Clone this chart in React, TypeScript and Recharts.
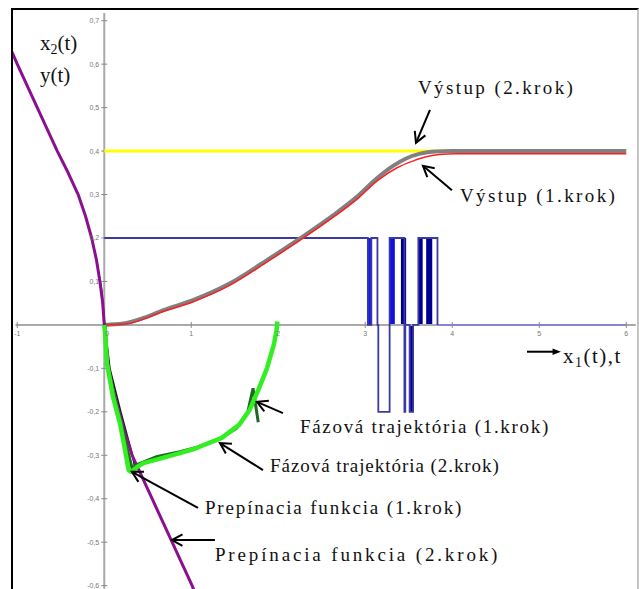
import {
  ComposedChart,
  Line,
  ReferenceArea,
  ReferenceDot,
  ReferenceLine,
  XAxis,
  YAxis,
} from "recharts";

type Pt = { x: number; y: number };

// Prepínacia funkcia (2. krok)
const switchCurve2: Pt[] = [
  { x: -1.06, y: 0.628 },
  { x: -1.0, y: 0.6 },
  { x: -0.77, y: 0.5 },
  { x: -0.54, y: 0.4 },
  { x: -0.415, y: 0.35 },
  { x: -0.3, y: 0.3 },
  { x: -0.215, y: 0.25 },
  { x: -0.145, y: 0.2 },
  { x: -0.09, y: 0.15 },
  { x: -0.05, y: 0.1 },
  { x: -0.018, y: 0.05 },
  { x: 0, y: 0 },
  { x: 0.02, y: -0.05 },
  { x: 0.05, y: -0.1 },
  { x: 0.1, y: -0.15 },
  { x: 0.17, y: -0.2 },
  { x: 0.24, y: -0.25 },
  { x: 0.32, y: -0.3 },
  { x: 0.55, y: -0.4 },
  { x: 0.78, y: -0.5 },
  { x: 1.01, y: -0.6 },
  { x: 1.03, y: -0.61 },
];

// Prepínacia funkcia (1. krok)
const switchCurve1: Pt[] = [
  { x: -0.09, y: 0.15 },
  { x: -0.03, y: 0.08 },
  { x: 0.005, y: 0 },
  { x: 0.065, y: -0.1 },
  { x: 0.19, y: -0.2 },
  { x: 0.325, y: -0.3 },
  { x: 0.36, y: -0.34 },
];

// Fázová trajektória (1. krok)
const phase1: Pt[] = [
  { x: 0.01, y: 0 },
  { x: 0.04, y: -0.09 },
  { x: 0.12, y: -0.17 },
  { x: 0.2, y: -0.23 },
  { x: 0.27, y: -0.29 },
  { x: 0.32, y: -0.33 },
  { x: 0.37, y: -0.322 },
  { x: 0.6, y: -0.303 },
  { x: 0.87, y: -0.292 },
  { x: 1.06, y: -0.282 },
  { x: 1.33, y: -0.262 },
  { x: 1.52, y: -0.238 },
  { x: 1.65, y: -0.2 },
  { x: 1.71, y: -0.146 },
  { x: 1.74, y: -0.185 },
  { x: 1.77, y: -0.224 },
];

// Fázová trajektória (2. krok)
const phase2: Pt[] = [
  { x: 0, y: 0 },
  { x: 0.01, y: -0.02 },
  { x: 0.03, y: -0.088 },
  { x: 0.1, y: -0.165 },
  { x: 0.18, y: -0.226 },
  { x: 0.24, y: -0.288 },
  { x: 0.28, y: -0.334 },
  { x: 0.31, y: -0.338 },
  { x: 0.37, y: -0.328 },
  { x: 0.45, y: -0.318 },
  { x: 0.62, y: -0.309 },
  { x: 0.87, y: -0.295 },
  { x: 1.04, y: -0.285 },
  { x: 1.35, y: -0.26 },
  { x: 1.55, y: -0.23 },
  { x: 1.67, y: -0.196 },
  { x: 1.77, y: -0.15 },
  { x: 1.87, y: -0.1 },
  { x: 1.95, y: -0.045 },
  { x: 1.98, y: -0.012 },
  { x: 1.99, y: 0.008 },
];

// Výstup (2. krok)
const output2: Pt[] = [
  { x: 0, y: 0 },
  { x: 0.22, y: 0.003 },
  { x: 0.45, y: 0.016 },
  { x: 0.68, y: 0.034 },
  { x: 1.02, y: 0.057 },
  { x: 1.44, y: 0.095 },
  { x: 1.87, y: 0.149 },
  { x: 2.25, y: 0.199 },
  { x: 2.63, y: 0.252 },
  { x: 2.9, y: 0.294 },
  { x: 3.13, y: 0.337 },
  { x: 3.32, y: 0.366 },
  { x: 3.47, y: 0.383 },
  { x: 3.63, y: 0.394 },
  { x: 3.82, y: 0.399 },
  { x: 4.0, y: 0.4 },
  { x: 6.0, y: 0.4 },
];

// Výstup (1. krok)
const output1: Pt[] = [
  { x: 0, y: 0 },
  { x: 0.24, y: 0.002 },
  { x: 0.68, y: 0.031 },
  { x: 1.03, y: 0.054 },
  { x: 1.45, y: 0.092 },
  { x: 1.88, y: 0.146 },
  { x: 2.26, y: 0.196 },
  { x: 2.64, y: 0.249 },
  { x: 2.91, y: 0.29 },
  { x: 3.14, y: 0.332 },
  { x: 3.36, y: 0.361 },
  { x: 3.56, y: 0.378 },
  { x: 3.7, y: 0.387 },
  { x: 3.85, y: 0.392 },
  { x: 4.05, y: 0.394 },
  { x: 6.0, y: 0.394 },
];

// žiadaná hodnota w = 0.4
const reference: Pt[] = [
  { x: 0, y: 0.4 },
  { x: 6.0, y: 0.4 },
];

// akčný zásah u(t)
const control: Pt[] = [
  { x: 0, y: 0.2 },
  { x: 3.03, y: 0.2 },
  { x: 3.03, y: 0 },
  { x: 3.07, y: 0 },
  { x: 3.07, y: 0.2 },
  { x: 3.14, y: 0.2 },
  { x: 3.14, y: 0 },
  { x: 3.15, y: 0 },
  { x: 3.15, y: -0.2 },
  { x: 3.28, y: -0.2 },
  { x: 3.28, y: 0.2 },
  { x: 3.45, y: 0.2 },
  { x: 3.45, y: -0.2 },
  { x: 3.46, y: -0.2 },
  { x: 3.46, y: 0 },
  { x: 3.51, y: 0 },
  { x: 3.51, y: -0.2 },
  { x: 3.55, y: -0.2 },
  { x: 3.55, y: 0 },
  { x: 3.61, y: 0 },
  { x: 3.61, y: 0.2 },
  { x: 3.83, y: 0.2 },
  { x: 3.83, y: 0 },
];

const controlTail: Pt[] = [
  { x: 3.83, y: 0 },
  { x: 6.0, y: 0 },
];

// husté prepínanie u(t) – vyplnené pásy [t1, t2, u1, u2]
const chatterBands: [number, number, number, number, string][] = [
  [3.03, 3.07, 0, 0.2, "#1414ff"],
  [3.28, 3.34, 0, 0.2, "#1010e0"],
  [3.41, 3.47, 0, 0.2, "#00008e"],
  [3.515, 3.55, -0.2, 0, "#00008e"],
  [3.61, 3.66, 0, 0.2, "#00008e"],
  [3.7, 3.77, 0, 0.2, "#00008e"],
];

const xTicks = [-1, 0, 1, 2, 3, 4, 5, 6];
const yTicks = [0.7, 0.6, 0.5, 0.4, 0.3, 0.2, 0.1, -0.1, -0.2, -0.3, -0.4, -0.5, -0.6];

const notes = [
  { text: "Výstup (2.krok)", x: 3.606, y: 0.531, spacing: 2.4 },
  { text: "Výstup (1.krok)", x: 4.088, y: 0.283, spacing: 2.4 },
  { text: "Fázová trajektória (1.krok)", x: 2.249, y: -0.249, spacing: 1.7 },
  { text: "Fázová trajektória (2.krok)", x: 1.905, y: -0.338, spacing: 0.95 },
  { text: "Prepínacia funkcia (1.krok)", x: 1.157, y: -0.435, spacing: 1.85 },
  { text: "Prepínacia funkcia (2.krok)", x: 1.272, y: -0.543, spacing: 2.85 },
];

const arrows: { from: Pt; to: Pt }[] = [
  { from: { x: 3.744, y: 0.495 }, to: { x: 3.583, y: 0.419 } },
  { from: { x: 3.996, y: 0.31 }, to: { x: 3.663, y: 0.366 } },
  { from: { x: 2.054, y: -0.203 }, to: { x: 1.755, y: -0.177 } },
  { from: { x: 1.824, y: -0.334 }, to: { x: 1.33, y: -0.272 } },
  { from: { x: 1.077, y: -0.421 }, to: { x: 0.318, y: -0.338 } },
  { from: { x: 1.272, y: -0.495 }, to: { x: 0.778, y: -0.495 } },
];

const X_DOMAIN: [number, number] = [-1.049, 6.135];
const Y_DOMAIN: [number, number] = [-0.6077, 0.7246];
const SERIF = '"Liberation Serif", "Times New Roman", serif';
const SANS = '"Liberation Sans", Arial, sans-serif';
const AXIS = "#a9a9a9";

const fmt = (v: number) => v.toFixed(1).replace(".", ",");

const arrowShape = (filled: boolean) => (p: any) => {
  const { x1, y1, x2, y2 } = p;
  const a = Math.atan2(y2 - y1, x2 - x1);
  const len = filled ? 9 : 12;
  const spread = filled ? 0.38 : 0.5;
  const ax = x2 - len * Math.cos(a - spread);
  const ay = y2 - len * Math.sin(a - spread);
  const bx = x2 - len * Math.cos(a + spread);
  const by = y2 - len * Math.sin(a + spread);
  return (
    <g>
      <line x1={x1} y1={y1} x2={filled ? x2 - 6 * Math.cos(a) : x2} y2={filled ? y2 - 6 * Math.sin(a) : y2} stroke="#000" strokeWidth={2} />
      {filled ? (
        <polygon points={`${ax},${ay} ${x2},${y2} ${bx},${by}`} fill="#000" />
      ) : (
        <polyline points={`${ax},${ay} ${x2},${y2} ${bx},${by}`} fill="none" stroke="#000" strokeWidth={2} />
      )}
    </g>
  );
};

const noteShape = (text: string, spacing: number) => (p: any) => (
  <text x={p.cx} y={p.cy} fontFamily={SERIF} fontSize={19} letterSpacing={spacing} fill="#111">
    {text}
  </text>
);

const tickLabel = (text: string, anchor: "end" | "middle" | "start", dx: number, dy: number) => (p: any) => (
  <text x={p.cx + dx} y={p.cy + dy} textAnchor={anchor} fontFamily={SANS} fontSize={7} fill="#777">
    {text}
  </text>
);

export default function App() {
  return (
    <div style={{ position: "absolute", left: 0, top: 0, width: 639, height: 589, overflow: "hidden", background: "#fff" }}>
      <div
        style={{
          position: "absolute",
          left: 11,
          top: 8,
          width: 624,
          height: 600,
          borderTop: "2px solid #000",
          borderLeft: "2px solid #000",
          borderRight: "2px solid #c4c4c4",
        }}
      />
      <div style={{ position: "absolute", left: 0, top: 0 }}>
        <ComposedChart width={639} height={589} margin={{ top: 10, right: 1, bottom: 0, left: 13 }}>
          <XAxis type="number" dataKey="x" domain={X_DOMAIN} allowDataOverflow hide />
          <YAxis type="number" dataKey="y" domain={Y_DOMAIN} allowDataOverflow hide />

          {/* osi cez počiatok */}
          <ReferenceLine segment={[{ x: -1.02, y: 0 }, { x: 6.11, y: 0 }]} stroke={AXIS} strokeWidth={2} />
          <ReferenceLine segment={[{ x: 0, y: 0.7177 }, { x: 0, y: -0.607 }]} stroke={AXIS} strokeWidth={2} />
          {xTicks.map((t) => (
            <ReferenceLine key={`xt${t}`} segment={[{ x: t, y: -0.007 }, { x: t, y: 0.007 }]} stroke="#8a8a8a" strokeWidth={1} />
          ))}
          {yTicks.map((t) => (
            <ReferenceLine key={`yt${t}`} segment={[{ x: -0.035, y: t }, { x: 0.035, y: t }]} stroke="#8a8a8a" strokeWidth={1} />
          ))}
          {xTicks.map((t) => (
            <ReferenceDot key={`xl${t}`} x={t} y={0} r={1} shape={tickLabel(String(t), "middle", t === 0 ? 3 : 0, 11)} />
          ))}
          {yTicks.map((t) => (
            <ReferenceDot key={`yl${t}`} x={0} y={t} r={1} shape={tickLabel(fmt(t), "end", -5, 2.5)} />
          ))}

          {chatterBands.map(([t1, t2, u1, u2, c], i) => (
            <ReferenceArea key={`b${i}`} x1={t1} x2={t2} y1={u1} y2={u2} fill={c} fillOpacity={1} stroke="none" />
          ))}
          <Line data={controlTail} dataKey="y" stroke="#8585d2" strokeWidth={2} dot={false} isAnimationActive={false} />
          <Line data={control} dataKey="y" stroke="#3a3aa4" strokeWidth={1.8} dot={false} isAnimationActive={false} />

          <Line data={reference} dataKey="y" stroke="#ffff00" strokeWidth={3} dot={false} isAnimationActive={false} />
          <Line type="monotone" data={output2} dataKey="y" stroke="#808080" strokeWidth={4} dot={false} isAnimationActive={false} />
          <Line type="monotone" data={output1} dataKey="y" stroke="#ff1e1e" strokeWidth={1.5} dot={false} isAnimationActive={false} />

          <Line data={switchCurve1} dataKey="y" stroke="#1c1c1c" strokeWidth={1.6} dot={false} isAnimationActive={false} />
          <Line data={switchCurve2} dataKey="y" stroke="#8b108f" strokeWidth={3} dot={false} isAnimationActive={false} strokeLinejoin="round" />
          <Line data={phase1} dataKey="y" stroke="#1f6a1f" strokeWidth={3} dot={false} isAnimationActive={false} />
          <Line data={phase2} dataKey="y" stroke="#33ee22" strokeWidth={4.5} dot={false} isAnimationActive={false} strokeLinejoin="round" />

          {arrows.map((a, i) => (
            <ReferenceLine key={`a${i}`} segment={[a.from, a.to]} shape={arrowShape(false)} />
          ))}
          <ReferenceLine segment={[{ x: 4.859, y: -0.0617 }, { x: 5.249, y: -0.0617 }]} shape={arrowShape(true)} />

          {notes.map((n) => (
            <ReferenceDot key={n.text} x={n.x} y={n.y} r={1} shape={noteShape(n.text, n.spacing)} />
          ))}
          <ReferenceDot
            x={5.272}
            y={-0.0877}
            r={1}
            shape={(p: any) => (
              <text x={p.cx} y={p.cy} fontFamily={SERIF} fontSize={21} letterSpacing={1.5} fill="#111">
                x<tspan fontSize={14} dy={4}>1</tspan>
                <tspan dy={-4}>(t),t</tspan>
              </text>
            )}
          />
          <ReferenceDot
            x={-0.739}
            y={0.6325}
            r={1}
            shape={(p: any) => (
              <text x={p.cx} y={p.cy} fontFamily={SERIF} fontSize={21} fill="#111">
                x<tspan fontSize={14} dy={4}>2</tspan>
                <tspan dy={-4}>(t)</tspan>
              </text>
            )}
          />
          <ReferenceDot
            x={-0.739}
            y={0.559}
            r={1}
            shape={(p: any) => (
              <text x={p.cx} y={p.cy} fontFamily={SERIF} fontSize={21} fill="#111">
                y(t)
              </text>
            )}
          />
        </ComposedChart>
      </div>
    </div>
  );
}
